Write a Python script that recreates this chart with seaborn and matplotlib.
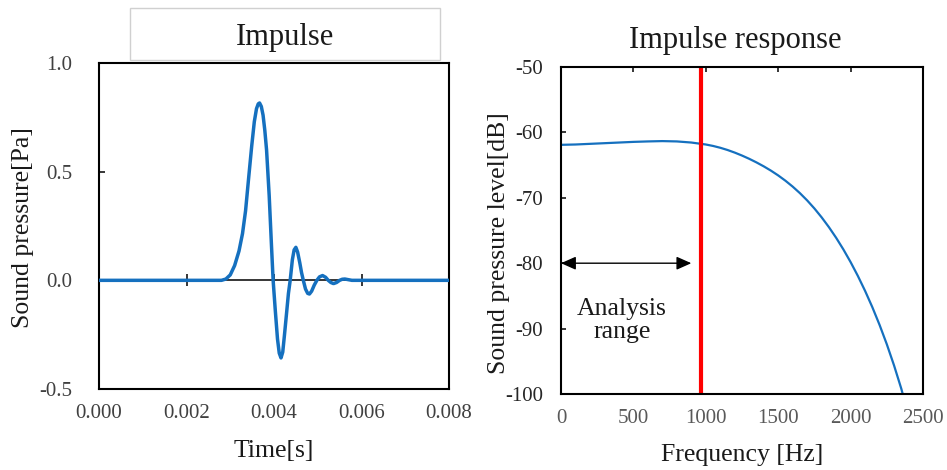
import matplotlib
matplotlib.use("Agg")
import matplotlib.pyplot as plt
from matplotlib.patches import Rectangle
import seaborn as sns

# ---------------- data ----------------
time_s = [0.0, 0.00280, 0.00290, 0.00300, 0.00310, 0.00320, 0.00328, 0.00335,
          0.00342, 0.00349, 0.00355, 0.00360, 0.00364, 0.00367, 0.00371, 0.00375,
          0.00379, 0.00383, 0.00389, 0.00394, 0.00398, 0.00403, 0.00408, 0.00412,
          0.00416, 0.00420, 0.00424, 0.00429, 0.00433, 0.00437, 0.00442, 0.00446,
          0.00450, 0.00454, 0.00459, 0.00463, 0.00467, 0.00472, 0.00477, 0.00481,
          0.00486, 0.00492, 0.00498, 0.00504, 0.00511, 0.00518, 0.00524, 0.00530,
          0.00536, 0.00543, 0.00550, 0.00556, 0.00562, 0.00570, 0.00578, 0.008]
pressure_pa = [0.0, 0.0, 0.006, 0.025, 0.068, 0.135, 0.215, 0.320,
               0.470, 0.617, 0.730, 0.790, 0.812, 0.816, 0.800, 0.760,
               0.690, 0.600, 0.390, 0.170, 0.0, -0.140, -0.270, -0.335,
               -0.357, -0.330, -0.250, -0.145, -0.060, 0.0, 0.095, 0.140,
               0.152, 0.130, 0.080, 0.035, 0.0, -0.040, -0.060, -0.063,
               -0.050, -0.022, 0.0, 0.016, 0.022, 0.014, 0.0, -0.010,
               -0.015, -0.010, 0.0, 0.005, 0.006, 0.003, 0.0, 0.0]

freq_hz = [0, 100, 200, 300, 400, 500, 600, 700, 800, 900, 1000, 1050, 1100,
           1150, 1200, 1250, 1300, 1350, 1400, 1450, 1500, 1550, 1600, 1650,
           1700, 1750, 1800, 1850, 1900, 1950, 2000, 2050, 2100, 2150, 2200,
           2250, 2300, 2350, 2360]
spl_db = [-61.9, -61.85, -61.75, -61.65, -61.55, -61.45, -61.38, -61.33, -61.38,
          -61.55, -61.85, -62.07, -62.35, -62.69, -63.09, -63.54, -64.04, -64.59,
          -65.19, -65.85, -66.58, -67.39, -68.29, -69.29, -70.40, -71.63, -72.99,
          -74.48, -76.11, -77.89, -79.83, -81.94, -84.23, -86.72, -89.43, -92.39,
          -95.63, -99.18, -100.0]

cutoff_hz = 970
arrow_end_hz = 900
arrow_level_db = -80

time_ticks = [0.000, 0.002, 0.004, 0.006, 0.008]
time_labels = ["0.000", "0.002", "0.004", "0.006", "0.008"]
press_ticks = [-0.5, 0.0, 0.5, 1.0]
press_labels = ["-0.5", "0.0", "0.5", "1.0"]
freq_ticks = [0, 500, 1000, 1500, 2000, 2500]
freq_labels = ["0", "500", "1000", "1500", "2000", "2500"]
db_ticks = [-100, -90, -80, -70, -60, -50]
db_labels = ["-100", "-90", "-80", "-70", "-60", "-50"]

# ---------------- style ----------------
sns.set_theme(style="white")
plt.rcParams["font.family"] = ["Liberation Serif", "DejaVu Serif"]

BLUE = "#1570BF"
fig = plt.figure(figsize=(9.47, 4.70), dpi=100)

# ================= left: Impulse =================
axL = fig.add_axes([99 / 947, 1 - 389 / 470, 350 / 947, 326 / 470])
sns.lineplot(x=time_s, y=pressure_pa, ax=axL, color=BLUE, linewidth=2.5, zorder=3)
axL.set_xlim(0, 0.008)
axL.set_ylim(-0.5, 1.0)

for s in axL.spines.values():
    s.set_color("black")
    s.set_linewidth(1.5)
# zero axis line with crossing ticks
axL.spines["bottom"].set_position(("data", 0))
axL.spines["bottom"].set_linewidth(1.1)
axL.spines["bottom"].set_zorder(2)
axL.set_xticks(time_ticks)
axL.tick_params(axis="x", direction="inout", length=8.6, width=1.1, color="black",
                labelbottom=False, bottom=True)
axL.set_yticks(press_ticks)
axL.set_yticklabels(press_labels)
axL.tick_params(axis="y", direction="in", length=4.5, width=1.1, color="black",
                left=True, pad=19, labelsize=15, labelcolor="#404040")

sec = axL.secondary_xaxis("bottom")
sec.set_xticks(time_ticks)
sec.set_xticklabels(time_labels)
sec.tick_params(length=0, pad=11, labelsize=15, labelcolor="#404040")
sec.spines["bottom"].set_linewidth(1.5)
sec.spines["bottom"].set_color("black")
for lab in sec.get_xticklabels():
    lab.set_fontfamily(["Liberation Serif", "DejaVu Serif"])

axL.set_xlabel("")
axL.set_ylabel("Sound pressure[Pa]", fontsize=18.5, color="#1a1a1a")
axL.yaxis.label.set_verticalalignment("center")
axL.yaxis.set_label_coords(-0.217, 0.495)
fig.text(274 / 947, 1 - 451 / 470, "Time[s]", fontsize=18.5, color="#1a1a1a",
         ha="center", va="center")

# title box
fig.patches.append(Rectangle((130 / 947, 1 - 60 / 470), 310 / 947, 52 / 470,
                             transform=fig.transFigure, fill=False,
                             edgecolor="#d0d0d0", linewidth=1.0))
fig.text(285 / 947, 1 - 45 / 470, "Impulse", fontsize=22, color="#1a1a1a",
         ha="center", va="baseline")

# ================= right: Impulse response =================
axR = fig.add_axes([561 / 947, 1 - 394 / 470, 362 / 947, 327 / 470])
sns.lineplot(x=freq_hz, y=spl_db, ax=axR, color=BLUE, linewidth=1.6, zorder=3)
axR.set_xlim(0, 2500)
axR.set_ylim(-100, -50)
axR.axvline(cutoff_hz, color="#ff0000", linewidth=3.0, zorder=4)
for s in axR.spines.values():
    s.set_color("black")
    s.set_linewidth(1.5)
    s.set_zorder(5)

axR.set_xticks(freq_ticks)
axR.set_xticklabels(freq_labels)
axR.tick_params(axis="x", which="both", bottom=False, top=True, direction="in",
                length=3.8, width=1.1, color="black", labelbottom=True,
                labeltop=False, pad=11, labelsize=15, labelcolor="#595959")
axR.set_yticks(db_ticks)
axR.set_yticklabels(db_labels)
axR.tick_params(axis="y", left=True, direction="in", length=3.8, width=1.1,
                color="black", pad=13, labelsize=15, labelcolor="#262626")

axR.annotate("", xy=(0, arrow_level_db), xytext=(arrow_end_hz, arrow_level_db),
             arrowprops=dict(arrowstyle="<|-|>,head_length=0.45,head_width=0.2",
                             mutation_scale=20, color="black", lw=1.0,
                             shrinkA=0, shrinkB=0))
axR.text(421, -88.8, "Analysis\nrange", fontsize=18.5, color="#1a1a1a",
         ha="center", va="center", linespacing=1.05)

axR.set_xlabel("")
axR.set_ylabel("Sound pressure level[dB]", fontsize=18.5, color="#1a1a1a")
axR.yaxis.label.set_verticalalignment("center")
axR.yaxis.set_label_coords(-0.171, 0.46)
fig.text(742 / 947, 1 - 455 / 470, "Frequency [Hz]", fontsize=18.5, color="#1a1a1a",
         ha="center", va="center")
fig.text(735 / 947, 1 - 48 / 470, "Impulse response", fontsize=22, color="#1a1a1a",
         ha="center", va="baseline")

fig.savefig("out.png", dpi=100)
